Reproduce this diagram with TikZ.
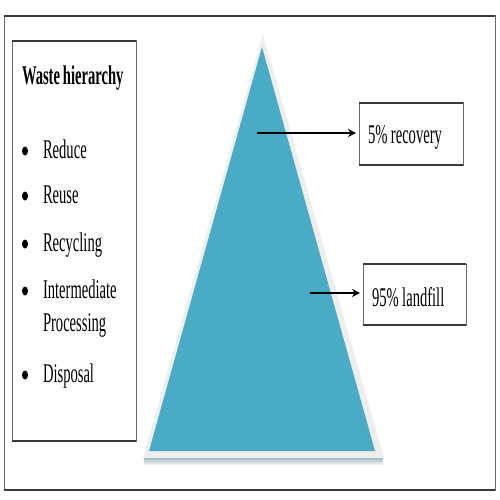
\documentclass[tikz,border=0pt]{standalone}
\usepackage{fontspec}
\setmainfont[FakeStretch=0.54,WordSpace=0.8]{Liberation Serif}
\usetikzlibrary{arrows.meta,positioning,shapes.geometric}
\definecolor{pyramid}{HTML}{4AABC4}
\definecolor{bevel}{HTML}{EEEEEE}
\definecolor{edge}{HTML}{3A3A3A}
\tikzset{
	every node/.style={font=\fontsize{27}{30}\selectfont,inner sep=0pt,outer sep=0pt},
	panel/.style={draw=edge!75,line width=1pt,rectangle},
	rim/.style={draw=edge,line width=2.2pt},
	item/.style={anchor=base west},
	dot/.style={ellipse,fill=black,minimum width=6pt,minimum height=9pt},
	pointer/.style={arrows={-Stealth[length=8pt,width=8pt]},line width=1.6pt,shorten >=3pt}
	}

\begin{document}
\begin{tikzpicture}[x=1pt,y=-1pt]
  \useasboundingbox (0,0) rectangle (500,500);
  % frames
  \node[panel, minimum width=491pt, minimum height=474pt] (frame) at (249.5,253) {};
  \node[panel, minimum width=124pt, minimum height=400pt] (hierbox) at (74,241) {};
  % pyramid
  \fill[bevel] (263,34) -- (384,458) -- (143,458) -- cycle;
  \shade[top color=gray!55!pyramid!60, bottom color=bevel] (144,458) rectangle (383,464);
  \fill[pyramid] (262,47) -- (375,451) -- (149,451) -- cycle;
  % labels on the right
  \node[panel, minimum width=104pt, minimum height=62pt] (recovery) at (411,134) {};
  \node[panel, minimum width=103pt, minimum height=61pt] (landfill) at (414.5,294.5) {};
  \node[item] (recovery-txt) at (368,143) {5\%\hspace{3.5pt}recovery};
  \node[item] (landfill-txt) at (372,306) {95\%\hspace{3.5pt}landfill};
  \foreach \pnl in {frame,hierbox,recovery,landfill}{
    \draw[rim] (\pnl.north west) -- (\pnl.north east);
    \draw[rim] (\pnl.south west) -- (\pnl.south east);
  }
  \coordinate (recTail) at (257,133);
  \coordinate (fillTail) at (310,293);
  \draw[pointer] (recTail) -- (recovery.west |- recTail);
  \draw[pointer] (fillTail) -- (landfill.west |- fillTail);
  % hierarchy list
  \node[item, font=\fontsize{27}{30}\selectfont\bfseries] (title) at (22,85) {Waste hierarchy};
  \foreach \txt/\ypos in {Reduce/158, Reuse/203, Recycling/251, Intermediate/298, Disposal/382}{
    \node[dot] (dot-\ypos) at (25,\ypos-7) {};
    \node[item] (entry-\ypos) at (43,\ypos) {\txt};
  }
  \node[item] (entry-331) at (43,331) {Processing};
\end{tikzpicture}
\end{document}
